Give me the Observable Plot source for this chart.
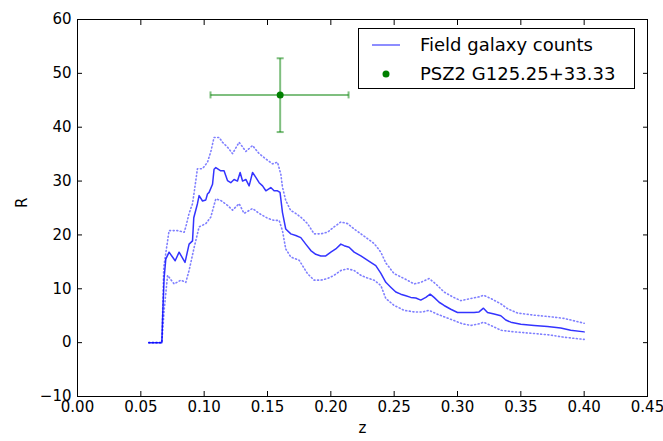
<!DOCTYPE html>
<html><head><meta charset="utf-8">
<script src="https://cdn.jsdelivr.net/npm/d3@7"></script>
<script src="https://cdn.jsdelivr.net/npm/@observablehq/plot@0.6"></script>
<style>
body{margin:0;background:#fff;}
#wrap{position:relative;width:663px;height:441px;font-family:"DejaVu Sans",sans-serif;}
#legend{position:absolute;left:358px;top:28px;width:277px;height:61px;border:1px solid #000;background:#fff;box-sizing:border-box;}
.lrow{position:absolute;left:0;height:20px;}
.ltext{position:absolute;left:61px;font-size:18px;line-height:20px;white-space:nowrap;color:#000;}
</style></head><body><div id="wrap"></div>
<script>
const zMain = [0.0563,0.0666,0.0671,0.0684,0.0697,0.0723,0.0771,0.0802,0.0849,0.0881,0.0908,0.0918,0.0947,0.0960,0.0987,0.1013,0.1026,0.1039,0.1066,0.1078,0.1092,0.1131,0.1157,0.1184,0.1210,0.1236,0.1263,0.1284,0.1303,0.1329,0.1355,0.1382,0.1408,0.1434,0.1461,0.1487,0.1526,0.1552,0.1579,0.1599,0.1618,0.1644,0.1684,0.1723,0.1763,0.1802,0.1842,0.1881,0.1921,0.1960,0.2000,0.2039,0.2079,0.2105,0.2144,0.2184,0.2237,0.2276,0.2315,0.2355,0.2394,0.2434,0.2473,0.2513,0.2552,0.2592,0.2631,0.2671,0.2710,0.2750,0.2784,0.2815,0.2855,0.2894,0.2947,0.3000,0.3039,0.3079,0.3131,0.3170,0.3205,0.3237,0.3289,0.3342,0.3381,0.3421,0.3500,0.3605,0.3710,0.3815,0.3894,0.4000];
const rMain = [0,0,4,12,15.5,16.8,15.2,16.8,14.9,18.3,18.9,23.2,25.8,27.3,26.3,26.5,27.6,27.9,29.4,32.2,32.5,31.9,31.9,30.1,29.7,30.3,30.0,31.6,30.0,30.3,29.1,31.6,30.7,29.7,29.1,28.2,28.8,28.2,28.2,27.9,24.2,21.1,20.2,19.9,19.5,18.3,17.1,16.4,16.1,16.1,16.8,17.4,18.3,18.0,17.7,16.8,16.1,15.5,14.9,14.3,12.9,11.2,10.3,9.4,9.0,8.7,8.4,8.3,7.9,8.4,9.0,8.4,7.5,6.9,6.2,5.6,5.6,5.6,5.6,5.7,6.4,5.6,5.3,5.0,4.2,3.8,3.4,3.2,3.0,2.7,2.3,2.0];

const zUp = [0.0563,0.0666,0.0681,0.0723,0.0790,0.0842,0.0855,0.0881,0.0908,0.0921,0.0947,0.0987,0.1026,0.1052,0.1078,0.1118,0.1145,0.1184,0.1224,0.1276,0.1329,0.1382,0.1434,0.1487,0.1540,0.1579,0.1605,0.1618,0.1644,0.1684,0.1710,0.1763,0.1816,0.1868,0.1921,0.1974,0.2026,0.2079,0.2132,0.2184,0.2237,0.2290,0.2342,0.2395,0.2434,0.2500,0.2579,0.2658,0.2710,0.2776,0.2829,0.2894,0.2961,0.3026,0.3105,0.3171,0.3205,0.3263,0.3342,0.3395,0.3474,0.3605,0.3737,0.3842,0.4000];
const rUp = [0,0,14,20.8,20.8,20.5,21.5,24,25.8,27.9,32.3,32.3,33.5,35.4,38.1,38.1,37.2,36.3,35.1,37.2,35.5,36.6,35.1,34.1,33.2,33.5,31.3,28.9,26.4,24.5,24.2,23.3,22.1,20.2,20.2,20.5,21.5,22.4,22.1,21.1,20.2,19.3,18.4,16.8,14.8,12.8,11.9,10.9,11.2,11.9,10.9,9.4,8.5,7.8,8.2,8.5,8.8,8.2,7.2,6.3,5.5,5.1,4.8,4.5,3.6];

const zLo = [0.0563,0.0666,0.0684,0.0711,0.0763,0.0816,0.0855,0.0881,0.0921,0.0960,0.1013,0.1052,0.1092,0.1131,0.1184,0.1224,0.1276,0.1315,0.1382,0.1434,0.1500,0.1552,0.1592,0.1618,0.1644,0.1684,0.1750,0.1816,0.1868,0.1921,0.1974,0.2026,0.2079,0.2132,0.2184,0.2237,0.2290,0.2342,0.2395,0.2434,0.2500,0.2579,0.2658,0.2724,0.2776,0.2829,0.2894,0.2973,0.3039,0.3105,0.3171,0.3205,0.3263,0.3342,0.3447,0.3605,0.3737,0.3842,0.4000];
const rLo = [0,0,6,12.5,10.9,11.6,11.2,13.4,17.7,21.5,22.1,23.3,26.7,26.4,25.5,24.6,25.8,24.0,24.9,24.0,23.1,22.7,22.7,20.8,17.4,15.9,15.3,12.8,11.6,11.6,11.9,12.5,13.4,13.7,13.4,12.5,12.0,11.6,10.6,8.2,6.9,6.0,5.7,5.7,6.0,5.4,4.8,4.1,3.5,3.2,3.5,3.8,3.2,2.3,2.0,1.7,1.4,1.0,0.6];

const clusterZ = [0.160];
const clusterZLo = [0.105];
const clusterZHi = [0.214];
const clusterR = [46.0];
const clusterRLo = [39.1];
const clusterRHi = [52.8];

const xTicks = [0,0.05,0.10,0.15,0.20,0.25,0.30,0.35,0.40,0.45];
const yTicks = [-10,0,10,20,30,40,50,60];
const legendLabels = ["Field galaxy counts","PSZ2 G125.25+33.33"];

const main = zMain.map((z,i)=>({z, r:rMain[i]}));
const upper = zUp.map((z,i)=>({z, r:rUp[i]}));
const lower = zLo.map((z,i)=>({z, r:rLo[i]}));
const err = clusterZ.map((z,i)=>({z, zlo:clusterZLo[i], zhi:clusterZHi[i], r:clusterR[i], rlo:clusterRLo[i], rhi:clusterRHi[i]}));

const hcap = {draw(ctx, size){const r=Math.sqrt(size/Math.PI); ctx.moveTo(-r,0); ctx.lineTo(r,0);}};
const vcap = {draw(ctx, size){const r=Math.sqrt(size/Math.PI); ctx.moveTo(0,-r); ctx.lineTo(0,r);}};

const green = "#008000";
const blue = "#0000ff";

const chart = Plot.plot({
  width:663, height:441,
  marginLeft:77, marginRight:16, marginTop:19, marginBottom:45,
  style:{fontFamily:"'DejaVu Sans', sans-serif", fontSize:"15px", color:"#000", background:"#fff", overflow:"visible"},
  x:{domain:[0,0.45]},
  y:{domain:[-10,60]},
  marks:[
    Plot.line(upper, {x:"z", y:"r", stroke:blue, strokeOpacity:0.5, strokeWidth:1.6, strokeDasharray:"1,2.6", strokeLinecap:"round"}),
    Plot.line(lower, {x:"z", y:"r", stroke:blue, strokeOpacity:0.5, strokeWidth:1.6, strokeDasharray:"1,2.6", strokeLinecap:"round"}),
    Plot.line(main, {x:"z", y:"r", stroke:blue, strokeOpacity:0.8, strokeWidth:1.5}),
    Plot.link(err, {x1:"zlo", x2:"zhi", y1:"r", y2:"r", stroke:green, strokeOpacity:0.5, strokeWidth:2}),
    Plot.link(err, {x1:"z", x2:"z", y1:"rlo", y2:"rhi", stroke:green, strokeOpacity:0.5, strokeWidth:2}),
    Plot.dot(err, {x:"zlo", y:"r", symbol:vcap, r:3.5, fill:"none", stroke:green, strokeOpacity:0.5, strokeWidth:2}),
    Plot.dot(err, {x:"zhi", y:"r", symbol:vcap, r:3.5, fill:"none", stroke:green, strokeOpacity:0.5, strokeWidth:2}),
    Plot.dot(err, {x:"z", y:"rlo", symbol:hcap, r:3.5, fill:"none", stroke:green, strokeOpacity:0.5, strokeWidth:2}),
    Plot.dot(err, {x:"z", y:"rhi", symbol:hcap, r:3.5, fill:"none", stroke:green, strokeOpacity:0.5, strokeWidth:2}),
    Plot.dot(err, {x:"z", y:"r", r:3.5, fill:green, stroke:"none"}),
    Plot.frame({stroke:"#000", strokeWidth:1}),
    Plot.axisX({ticks:xTicks, tickSize:-5, tickPadding:10, tickFormat:d3.format(".2f"), label:null}),
    Plot.axisX({anchor:"top", ticks:xTicks, tickSize:-5, tickFormat:()=>"", label:null}),
    Plot.axisY({ticks:yTicks, tickSize:-5, tickPadding:11, label:null}),
    Plot.axisY({anchor:"right", ticks:yTicks, tickSize:-5, tickFormat:()=>"", label:null}),
    Plot.text(["z"], {frameAnchor:"bottom", dy:36, fontSize:15}),
    Plot.text(["R"], {frameAnchor:"left", dx:-55, rotate:-90, fontSize:15})
  ]
});
const wrap = document.getElementById("wrap");
wrap.appendChild(chart);

// legend
const leg = document.createElement("div");
leg.id = "legend";
const rowsTop = [6, 35];
legendLabels.forEach((lab,i)=>{
  const row = document.createElement("div");
  row.className = "lrow";
  row.style.top = rowsTop[i] + "px";
  row.style.width = "100%";
  const sw = document.createElementNS("http://www.w3.org/2000/svg","svg");
  sw.setAttribute("width","50"); sw.setAttribute("height","20");
  sw.style.position="absolute"; sw.style.left="0"; sw.style.top="0";
  if (i===0) {
    const l = document.createElementNS("http://www.w3.org/2000/svg","line");
    l.setAttribute("x1","13"); l.setAttribute("x2","41"); l.setAttribute("y1","10"); l.setAttribute("y2","10");
    l.setAttribute("stroke",blue); l.setAttribute("stroke-opacity","0.6"); l.setAttribute("stroke-width","1.5");
    sw.appendChild(l);
  } else {
    const c = document.createElementNS("http://www.w3.org/2000/svg","circle");
    c.setAttribute("cx","27"); c.setAttribute("cy","10"); c.setAttribute("r","3.5");
    c.setAttribute("fill",green);
    sw.appendChild(c);
  }
  row.appendChild(sw);
  const t = document.createElement("div");
  t.className = "ltext";
  t.textContent = lab;
  row.appendChild(t);
  leg.appendChild(row);
});
wrap.appendChild(leg);
</script>
</body></html>
